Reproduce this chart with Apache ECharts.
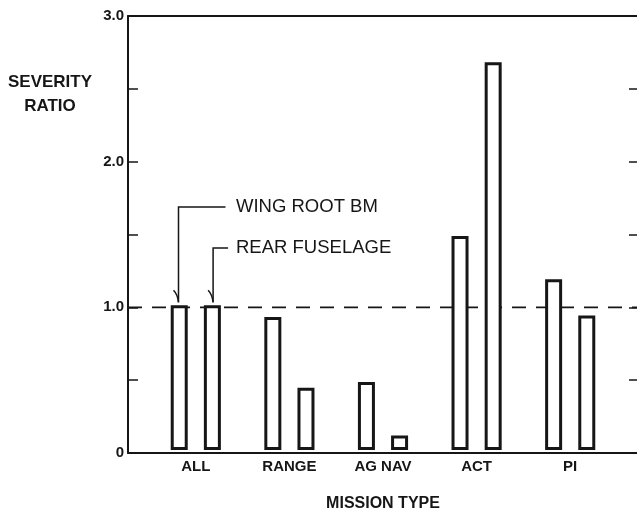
<!DOCTYPE html>
<html>
<head>
<meta charset="utf-8">
<script src="https://cdn.jsdelivr.net/npm/echarts@6/dist/echarts.min.js"></script>
<style>
html,body{margin:0;padding:0;background:#fff;}
#chart{width:637px;height:517px;}
</style>
</head>
<body>
<div id="chart"></div>
<script>
var categories = ['ALL', 'RANGE', 'AG NAV', 'ACT', 'PI'];
var wingRootBM = [1.0, 0.92, 0.47, 1.48, 1.18];
var rearFuselage = [1.0, 0.43, 0.10, 2.68, 0.93];
var referenceLine = [[0, 1.0], [1, 1.0]];
var yTickLabels = {'0': '0', '1': '1.0', '2': '2.0', '3': '3.0'};
var seriesNames = ['WING ROOT BM', 'REAR FUSELAGE'];

var INK = '#161616';
var FONT = "'Liberation Sans', Arial, sans-serif";

var chart = echarts.init(document.getElementById('chart'), null, {renderer: 'canvas'});

var barStyle = {color: '#ffffff', borderColor: INK, borderWidth: 3};

var option = {
  animation: false,
  backgroundColor: '#ffffff',
  grid: [
    {left: 128, right: -4, top: 16, bottom: 64},
    {left: 149, right: 20, top: 16, bottom: 64}
  ],
  xAxis: [
    {gridIndex: 0, type: 'value', min: 0, max: 1, position: 'bottom',
     axisLine: {show: true, onZero: false, lineStyle: {color: INK, width: 2}},
     axisTick: {show: false}, axisLabel: {show: false}, splitLine: {show: false}},
    {gridIndex: 0, type: 'value', min: 0, max: 1, position: 'top',
     axisLine: {show: true, onZero: false, lineStyle: {color: INK, width: 2}},
     axisTick: {show: false}, axisLabel: {show: false}, splitLine: {show: false}},
    {gridIndex: 1, type: 'category', data: categories, position: 'bottom',
     axisLine: {show: false}, axisTick: {show: false},
     axisLabel: {show: true, color: INK, fontFamily: FONT, fontWeight: 'bold', fontSize: 15, margin: 9},
     name: 'MISSION TYPE', nameLocation: 'middle', nameGap: 46,
     nameTextStyle: {color: INK, fontFamily: FONT, fontWeight: 'bold', fontSize: 16}}
  ],
  yAxis: [
    {gridIndex: 0, type: 'value', min: 0, max: 3, interval: 0.5, position: 'left',
     axisLine: {show: true, onZero: false, lineStyle: {color: INK, width: 2}},
     axisTick: {show: true, inside: true, length: 10, lineStyle: {color: INK, width: 1.5}},
     axisLabel: {show: true, color: INK, fontFamily: FONT, fontWeight: 'bold', fontSize: 15, margin: 4,
       formatter: function (v) { var k = String(v); return yTickLabels.hasOwnProperty(k) ? yTickLabels[k] : ''; }},
     splitLine: {show: false}},
    {gridIndex: 0, type: 'value', min: 0, max: 3, interval: 0.5, position: 'right',
     axisLine: {show: false, onZero: false},
     axisTick: {show: true, inside: true, length: 8, lineStyle: {color: INK, width: 1.5}},
     axisLabel: {show: false}, splitLine: {show: false}},
    {gridIndex: 1, type: 'value', min: 0, max: 3, show: false, splitLine: {show: false}}
  ],
  series: [
    {type: 'line', xAxisIndex: 0, yAxisIndex: 0, data: referenceLine, symbol: 'none', z: 1,
     lineStyle: {color: INK, width: 1.6, type: [14, 10]}, silent: true},
    {type: 'bar', name: seriesNames[0], xAxisIndex: 2, yAxisIndex: 2, data: wingRootBM,
     barWidth: 17, barGap: '95%', itemStyle: barStyle, z: 5},
    {type: 'bar', name: seriesNames[1], xAxisIndex: 2, yAxisIndex: 2, data: rearFuselage,
     barWidth: 17, barGap: '95%', itemStyle: barStyle, z: 5}
  ]
};
chart.setOption(option);

var cx = chart.convertToPixel({xAxisIndex: 2}, categories[0]);
var yTop = chart.convertToPixel({yAxisIndex: 2}, wingRootBM[0]);
var off = 17.3;
var xa = cx - off, xb = cx + off;
var yA = 207, yB = 248, textX = 236;
var lineSt = {stroke: INK, lineWidth: 1.5, fill: null};
chart.setOption({
  graphic: [
    {type: 'text', x: 50, y: 70, style: {text: 'SEVERITY\nRATIO', fill: INK, font: 'bold 17px ' + FONT, textAlign: 'center', lineHeight: 24}, z: 10},
    {type: 'polyline', shape: {points: [[xa, yTop - 3], [xa, yA], [xa + 47, yA]]}, style: lineSt, z: 10},
    {type: 'polyline', shape: {points: [[xb, yTop - 3], [xb, yB], [xb + 15, yB]]}, style: lineSt, z: 10},
    {type: 'bezierCurve', shape: {x1: xa - 5, y1: yTop - 15, x2: xa, y2: yTop - 3, cpx1: xa - 1, cpy1: yTop - 11}, style: lineSt, z: 10},
    {type: 'bezierCurve', shape: {x1: xb - 5, y1: yTop - 15, x2: xb, y2: yTop - 3, cpx1: xb - 1, cpy1: yTop - 11}, style: lineSt, z: 10},
    {type: 'text', x: textX, y: yA, style: {text: seriesNames[0], fill: INK, font: '18.5px ' + FONT, textVerticalAlign: 'middle'}, z: 10},
    {type: 'text', x: textX, y: yB, style: {text: seriesNames[1], fill: INK, font: '18.5px ' + FONT, textVerticalAlign: 'middle'}, z: 10}
  ]
});
</script>
</body>
</html>
